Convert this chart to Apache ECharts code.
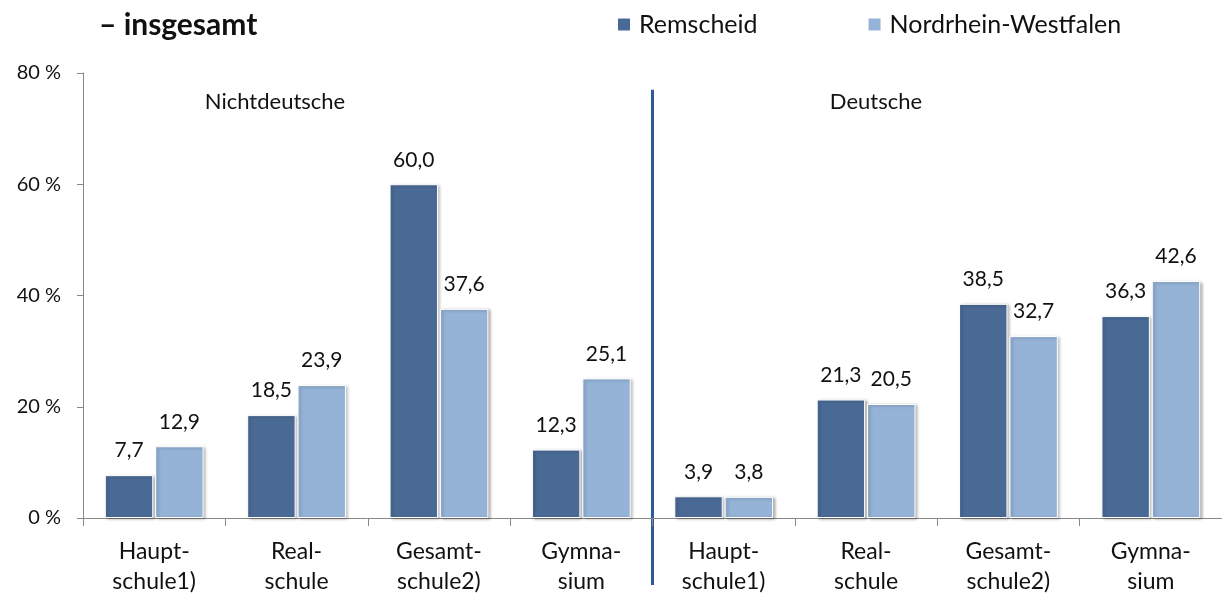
<!DOCTYPE html>
<html>
<head>
<meta charset="utf-8">
<script src="https://cdn.jsdelivr.net/npm/echarts@6/dist/echarts.min.js"></script>
<style>
  html, body { margin: 0; padding: 0; background: #fff; }
  #chart { width: 1222px; height: 594px; }
</style>
</head>
<body>
<div id="chart"></div>
<script>
const categories = [
  'Haupt-\nschule1)', 'Real-\nschule', 'Gesamt-\nschule2)', 'Gymna-\nsium',
  'Haupt-\nschule1)', 'Real-\nschule', 'Gesamt-\nschule2)', 'Gymna-\nsium'
]
const remscheid = [7.7, 18.5, 60.0, 12.3, 3.9, 21.3, 38.5, 36.3]
const nrw = [12.9, 23.9, 37.6, 25.1, 3.8, 20.5, 32.7, 42.6]
const yTicks = [0, 20, 40, 60, 80]

const FONT = 'Lato, "Open Sans", sans-serif'
const DARK = '#4a6a96'
const LIGHT = '#95b3d7'

const chart = echarts.init(document.getElementById('chart'))

const labelStyle = {
  show: true,
  position: 'top',
  distance: 14,
  color: '#111',
  fontSize: 21,
  fontFamily: FONT,
  formatter: (p) => p.value.toFixed(1).replace('.', ','),
}

const barItem = (color) => ({
  color,
  borderColor: '#fff',
  borderWidth: 1,
  shadowColor: 'rgba(0,0,0,0.3)',
  shadowBlur: 3,
  shadowOffsetX: 2,
  shadowOffsetY: 1,
})

chart.setOption({
  animation: false,
  textStyle: { fontFamily: FONT },
  title: {
    text: '– insgesamt',
    left: 94,
    top: 5,
    textStyle: { fontSize: 30, fontWeight: 'bold', color: '#111', fontFamily: FONT },
  },
  legend: {
    left: 611,
    top: 7,
    itemGap: 109,
    itemWidth: 14,
    itemHeight: 14,
    icon: 'rect',
    textStyle: { fontSize: 25, color: '#111', fontFamily: FONT, padding: [0, 0, 0, 3] },
    data: ['Remscheid', 'Nordrhein-Westfalen'],
  },
  grid: { left: 83, right: 0, top: 73, bottom: 76, outerBoundsMode: 'none', containLabel: false },
  xAxis: {
    type: 'category',
    data: categories,
    axisLine: { lineStyle: { color: '#888', width: 1 } },
    axisTick: { show: true, alignWithLabel: false, length: 8, lineStyle: { color: '#888' } },
    axisLabel: {
      color: '#111',
      fontSize: 23,
      lineHeight: 30,
      margin: 19,
      interval: 0,
      fontFamily: FONT,
    },
  },
  yAxis: {
    type: 'value',
    min: yTicks[0],
    max: yTicks[yTicks.length - 1],
    interval: 20,
    axisLine: { show: true, lineStyle: { color: '#888' } },
    axisTick: { show: true, length: 6, lineStyle: { color: '#888' } },
    splitLine: { show: false },
    axisLabel: {
      color: '#111',
      fontSize: 20,
      margin: 22,
      fontFamily: FONT,
      formatter: '{value} %',
    },
  },
  series: [
    {
      name: 'Remscheid',
      type: 'bar',
      data: remscheid,
      barWidth: '34%',
      barGap: '4%',
      itemStyle: barItem(DARK),
      label: labelStyle,
    },
    {
      name: 'Nordrhein-Westfalen',
      type: 'bar',
      data: nrw,
      barWidth: '34%',
      barGap: '4%',
      itemStyle: barItem(LIGHT),
      label: labelStyle,
    },
  ],
})

// separator between the two groups + group captions
const c3 = chart.convertToPixel({ xAxisIndex: 0 }, 3)
const c4 = chart.convertToPixel({ xAxisIndex: 0 }, 4)
const sepX = (c3 + c4) / 2
const sepTop = chart.convertToPixel({ yAxisIndex: 0 }, 77)

chart.setOption({
  graphic: [
    {
      type: 'line',
      shape: { x1: sepX, y1: sepTop, x2: sepX, y2: 585 },
      style: { stroke: '#2f5a94', lineWidth: 3 },
    },
    {
      type: 'text',
      x: 275,
      y: sepTop + 12,
      style: { text: 'Nichtdeutsche', fontSize: 22, fill: '#111', fontFamily: FONT, align: 'center', verticalAlign: 'middle' },
    },
    {
      type: 'text',
      x: 876,
      y: sepTop + 12,
      style: { text: 'Deutsche', fontSize: 22, fill: '#111', fontFamily: FONT, align: 'center', verticalAlign: 'middle' },
    },
  ],
})
</script>
</body>
</html>
